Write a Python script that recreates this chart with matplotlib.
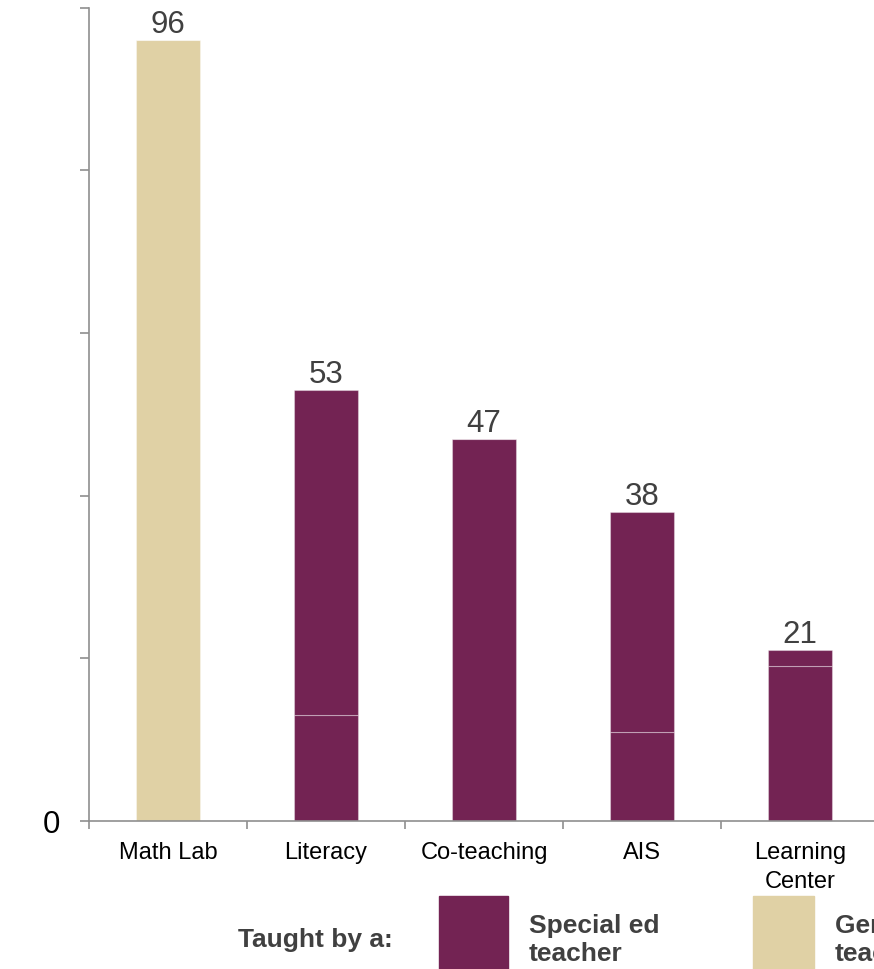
import matplotlib.pyplot as plt
from matplotlib.patches import Rectangle

plt.rcParams['font.family'] = ['Liberation Sans', 'DejaVu Sans']

# Data
categories = ['Math Lab', 'Literacy', 'Co-teaching', 'AIS', 'Learning\nCenter']
lower_part = [96, 13, 47, 11, 19]
upper_part = [0, 40, 0, 27, 2]
totals = [96, 53, 47, 38, 21]
taught_by = ['general', 'special', 'special', 'special', 'special']

PURPLE = '#732353'
BEIGE = '#E0D1A5'
TEXT_GRAY = '#404040'
AXIS_GRAY = '#8f8f8f'
colors = {'special': PURPLE, 'general': BEIGE}

fig = plt.figure(figsize=(8.74, 9.70), dpi=100)
W, H = 874, 970
ax = fig.add_axes([89 / W, (H - 822) / H, (879 - 89) / W, (822 - 8.5) / H])

x = list(range(len(categories)))
bar_colors = [colors[t] for t in taught_by]
edge = (1, 1, 1, 0.35)
ax.bar(x, lower_part, width=0.405, color=bar_colors, edgecolor=edge, linewidth=0.8)
ax.bar(x, upper_part, width=0.405, bottom=lower_part, color=bar_colors,
       edgecolor=edge, linewidth=0.8)

for xi, total in zip(x, totals):
    ax.annotate(str(total), (xi, total), xytext=(0, 0.5), textcoords='offset points',
                ha='center', va='bottom', fontsize=22.5, color=TEXT_GRAY)

ax.set_xlim(-0.5, 4.5)
ax.set_ylim(0, 100)

# boundary ticks on x, category names as minor ticks
ax.set_xticks([i - 0.5 for i in range(len(categories) + 1)])
ax.set_xticklabels([])
ax.set_xticks(x, minor=True)
ax.set_xticklabels(categories, minor=True, fontsize=17, color='black',
                   linespacing=1.4)
ax.tick_params(axis='x', which='minor', length=0, pad=14.5)
ax.tick_params(axis='x', which='major', length=6, width=1.2, color=AXIS_GRAY,
               direction='out')

ax.set_yticks(range(0, 101, 20))
ax.set_yticklabels(['0', '', '', '', '', ''], fontsize=22.5, color='black')
ax.tick_params(axis='y', length=6.5, width=1.2, color=AXIS_GRAY, pad=14)

for side in ['top', 'right']:
    ax.spines[side].set_visible(False)
for side in ['left', 'bottom']:
    ax.spines[side].set_color(AXIS_GRAY)
    ax.spines[side].set_linewidth(1.2)

# Legend row at the bottom
fig.text(393 / W, (H - 940) / H, 'Taught by a:', ha='right', va='center',
         fontsize=19, fontweight='bold', color=TEXT_GRAY)
fig.patches.append(Rectangle((439 / W, 0), (508 - 439) / W, (H - 897) / H,
                             transform=fig.transFigure, color=PURPLE, zorder=1))
fig.text(529 / W, (H - 940) / H, 'Special ed\nteacher', ha='left', va='center',
         fontsize=19, fontweight='bold', color=TEXT_GRAY, linespacing=1.22)
fig.patches.append(Rectangle((753 / W, 0), (814 - 753) / W, (H - 897) / H,
                             transform=fig.transFigure, color=BEIGE, zorder=1))
fig.text(835 / W, (H - 940) / H, 'General ed\nteacher', ha='left', va='center',
         fontsize=19, fontweight='bold', color=TEXT_GRAY, linespacing=1.22)

fig.savefig('out.png', dpi=100)
